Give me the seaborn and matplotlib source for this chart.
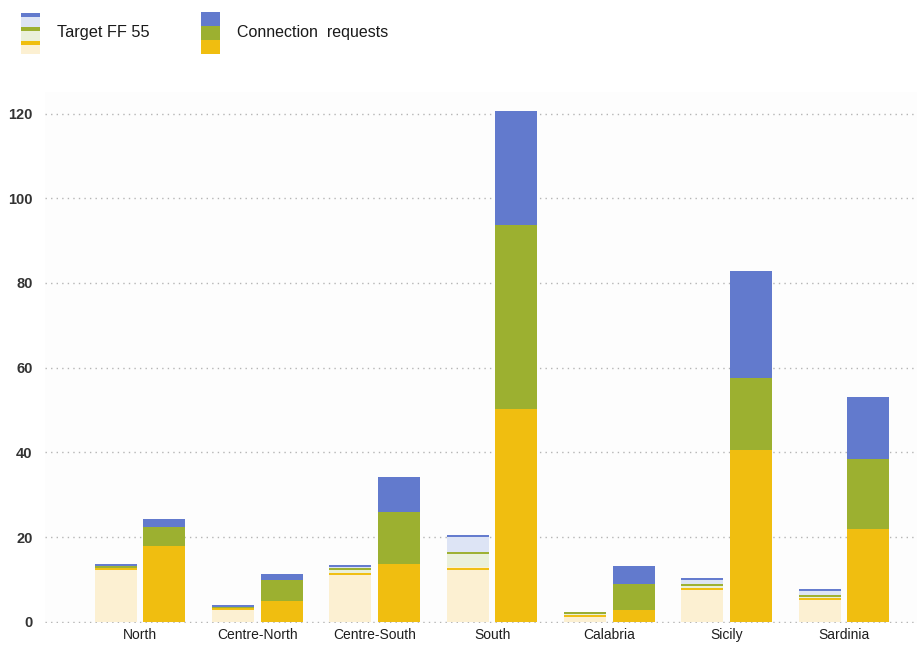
import matplotlib
matplotlib.use("Agg")
import matplotlib.pyplot as plt
from matplotlib.patches import Rectangle
from matplotlib.colors import to_rgba
import pandas as pd
import seaborn as sns

# ---- data (GW) ----
regions = ["North", "Centre-North", "Centre-South", "South", "Calabria", "Sicily", "Sardinia"]
series = ["Target FF 55", "Connection requests"]

target_yellow = [12.8, 3.2, 11.5, 12.8, 1.6, 7.9, 5.7]
target_green = [0.4, 0.4, 1.2, 3.6, 0.6, 1.0, 0.7]
target_blue = [0.4, 0.4, 0.7, 4.1, 0.2, 1.4, 1.3]

requests_yellow = [17.8, 5.0, 13.6, 50.2, 2.7, 40.5, 22.0]
requests_green = [4.5, 4.9, 12.4, 43.6, 6.2, 17.1, 16.5]
requests_blue = [2.0, 1.4, 8.2, 26.7, 4.3, 25.3, 14.5]

y_ticks = [0, 20, 40, 60, 80, 100, 120]

# ---- colours ----
YELLOW, GREEN, BLUE = "#F0BE10", "#9CB030", "#627ACD"
YELLOW_L, GREEN_L, BLUE_L = "#FCF0D2", "#EAF0DA", "#DDE4F5"

sns.set_theme(style="white")
plt.rcParams["font.family"] = ["Liberation Sans", "DejaVu Sans"]

df = pd.DataFrame({
    "region": regions * 2,
    "series": [series[0]] * len(regions) + [series[1]] * len(regions),
    "yellow": target_yellow + requests_yellow,
    "green": target_green + requests_green,
    "blue": target_blue + requests_blue,
})
df["top_yellow"] = df["yellow"]
df["top_green"] = df["top_yellow"] + df["green"]
df["top_blue"] = df["top_green"] + df["blue"]

W, H = 917, 647
fig = plt.figure(figsize=(W / 100, H / 100), dpi=100)
fig.patch.set_facecolor("white")
ax = fig.add_axes([45 / W, 0.0365, 1 - 45 / W, 0.8207])
ax.set_facecolor("#fdfdfd")

# stacked bars: cumulative layers drawn back to front
layers = [("top_blue", BLUE_L, BLUE), ("top_green", GREEN_L, GREEN), ("top_yellow", YELLOW_L, YELLOW)]
edge_lines = []
for col, light, dark in layers:
    n0 = len(ax.patches)
    sns.barplot(data=df, x="region", y=col, hue="series", order=regions,
                hue_order=series, palette={series[0]: light, series[1]: dark},
                width=0.83, gap=0.137, saturation=1, errorbar=None,
                legend=False, linewidth=0, zorder=2, ax=ax)
    for p in ax.patches[n0:]:
        if to_rgba(p.get_facecolor()) == to_rgba(light) and p.get_height() > 0:
            edge_lines.append((p.get_x(), p.get_width(), p.get_height(), dark))

# thin coloured rule on top of each target segment
for x0, w, h, c in edge_lines:
    ax.hlines(h - 0.25, x0, x0 + w, colors=c, linewidth=1.4, zorder=3)

ax.set_xlim(-0.81, 6.622)
ax.set_ylim(-0.4, 125)
ax.set_yticks(y_ticks)
ax.set_xlabel("")
ax.set_ylabel("")
ax.yaxis.grid(True, linestyle=(0, (1, 3)), color="#b5b5b5", linewidth=1.0)
ax.xaxis.grid(False)
ax.set_axisbelow(True)
for s in ax.spines.values():
    s.set_visible(False)
ax.tick_params(axis="y", length=0, pad=9, labelsize=10.5, labelcolor="#333333")
ax.tick_params(axis="x", length=0, pad=3, labelsize=10, labelcolor="#1e1e1e")
for lab in ax.get_yticklabels():
    lab.set_fontweight("bold")


# ---- legend above the plot ----
def px_rect(x0, x1, y0, y1, color):
    fig.add_artist(Rectangle((x0 / W, 1 - y1 / H), (x1 - x0) / W, (y1 - y0) / H,
                             transform=fig.transFigure, facecolor=color,
                             edgecolor="none"))


for y0, y1, c in [(13, 17, BLUE), (17, 27.5, BLUE_L), (27.5, 31, GREEN),
                  (31, 41, GREEN_L), (41, 45, YELLOW), (45, 54, YELLOW_L)]:
    px_rect(21, 40, y0, y1, c)
for y0, y1, c in [(12, 26, BLUE), (26, 40, GREEN), (40, 54, YELLOW)]:
    px_rect(201, 220, y0, y1, c)

fig.text(57 / W, 1 - 33 / H, "Target FF 55", fontsize=11.8, color="#1a1a1a", va="center")
fig.text(237 / W, 1 - 33 / H, "Connection  requests", fontsize=11.5, color="#1a1a1a", va="center")

fig.savefig("out.png", dpi=100)
